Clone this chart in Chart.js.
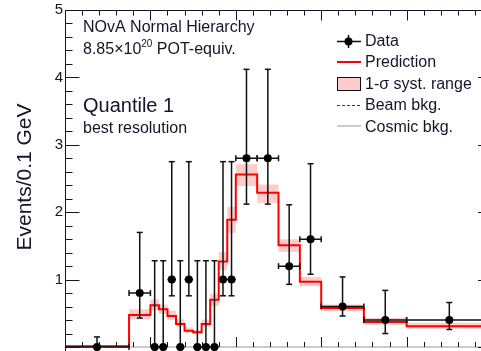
<!DOCTYPE html>
<html>
<head>
<meta charset="utf-8">
<script src="https://cdn.jsdelivr.net/npm/chart.js@4.4.1/dist/chart.umd.min.js"></script>
<style>
  html, body { margin: 0; padding: 0; background: #fff; }
  #wrap { width: 481px; height: 351px; }
</style>
</head>
<body>
<div id="wrap"><canvas id="chart" width="481" height="351"></canvas></div>
<script>
// bins in reconstructed energy (GeV), values in Events/0.1 GeV
const binEdges = [0, 0.75, 1.0, 1.1, 1.2, 1.3, 1.4, 1.5, 1.6, 1.7, 1.8, 1.9, 2.0, 2.25, 2.5, 2.75, 3.0, 3.5, 4.0, 5.0];
const prediction = [0.01, 0.475, 0.62, 0.56, 0.46, 0.34, 0.24, 0.22, 0.34, 0.70, 1.27, 1.89, 2.56, 2.29, 1.51, 0.97, 0.58, 0.37, 0.31];
const systLow  = [0.0, 0.41, 0.54, 0.49, 0.40, 0.30, 0.21, 0.19, 0.30, 0.61, 1.14, 1.69, 2.39, 2.14, 1.41, 0.90, 0.53, 0.33, 0.27];
const systHigh = [0.03, 0.56, 0.71, 0.63, 0.54, 0.41, 0.29, 0.25, 0.41, 0.79, 1.41, 2.08, 2.71, 2.41, 1.60, 1.04, 0.63, 0.43, 0.36];
const beamBkg   = [0, 0, 0, 0, 0, 0, 0, 0, 0, 0, 0, 0, 0, 0, 0, 0, 0, 0, 0];
const cosmicBkg = [0, 0, 0, 0, 0, 0, 0, 0, 0, 0, 0, 0, 0, 0, 0, 0, 0, 0, 0];
const dataValues  = [0, 0.8, 0, 0, 1, 0, 1, 0, 0, 0, 1, 1, 2.8, 2.8, 1.2, 1.6, 0.6, 0.4, 0.4];
const dataErrLow  = [0, 0.43, 0, 0, 0.76, 0, 0.76, 0, 0, 0, 0.76, 0.76, 2.12, 2.12, 0.93, 1.08, 0.46, 0.20, 0.26];
const dataErrHigh = [0.15, 1.70, 1.28, 1.28, 2.75, 1.28, 2.75, 1.28, 1.28, 1.28, 2.75, 2.75, 4.12, 4.12, 2.11, 2.72, 1.04, 0.84, 0.66];
const yTickValues = [1, 2, 3, 4, 5];

const FONT = "'Liberation Sans', Arial, Helvetica, sans-serif";
const INK = '#15152a';
const PINK = '#ffcccc';
const BLUE = '#2020ff';

function binCenter(i) { return (binEdges[i] + binEdges[i + 1]) / 2; }

// left edge of every bin plus a closing point, drawn as a stepped line
function stepPoints(values) {
  const pts = values.map((v, i) => ({ x: binEdges[i], y: v }));
  pts.push({ x: binEdges[values.length], y: values[values.length - 1] });
  return pts;
}

const markers = [], vErr = [], hErr = [];
dataValues.forEach((v, i) => {
  const c = binCenter(i);
  markers.push({ x: c, y: v });
  vErr.push({ x: c, y: dataErrLow[i] }, { x: c, y: dataErrHigh[i] }, { x: c, y: null });
  hErr.push({ x: binEdges[i], y: v }, { x: binEdges[i + 1], y: v }, { x: c, y: null });
});

const rootFrame = {
  id: 'rootFrame',
  afterDatasetsDraw(chart) {
    const { ctx, chartArea: a, scales: { x, y } } = chart;
    const L = Math.round(a.left) + 0.5, T = Math.round(a.top) + 0.5;
    const xRight = x.getPixelForValue(5);
    const yZero = y.getPixelForValue(0);
    ctx.save();
    ctx.strokeStyle = INK;
    ctx.lineWidth = 1;
    ctx.beginPath();
    ctx.moveTo(L, a.bottom); ctx.lineTo(L, T); ctx.lineTo(a.right, T);
    for (let k = 0; k <= 25; k++) {
      const px = Math.round(x.getPixelForValue(k * 0.2)) + 0.5;
      const len = k % 5 === 0 ? 10 : 5;
      ctx.moveTo(px, T); ctx.lineTo(px, T + len);
      ctx.moveTo(px, yZero); ctx.lineTo(px, yZero - len);
    }
    for (let k = 0; k <= 25; k++) {
      const py = Math.round(y.getPixelForValue(k * 0.2)) + 0.5;
      const len = k % 5 === 0 ? 14 : 7;
      ctx.moveTo(L, py); ctx.lineTo(L + len, py);
      ctx.moveTo(xRight, py); ctx.lineTo(xRight - len, py);
    }
    ctx.stroke();
    ctx.restore();
  },
  afterDraw(chart) {
    const ctx = chart.ctx;
    ctx.save();
    ctx.fillStyle = INK;
    ctx.textBaseline = 'alphabetic';

    // y title
    ctx.save();
    ctx.translate(31, 177);
    ctx.rotate(-Math.PI / 2);
    ctx.textAlign = 'center';
    ctx.font = '21px ' + FONT;
    ctx.fillText('Events/0.1 GeV', 0, 0);
    ctx.restore();

    ctx.textAlign = 'left';
    ctx.font = '16px ' + FONT;
    ctx.fillText('NOvA Normal Hierarchy', 83, 31.5);
    let tx = 83;
    ctx.fillText('8.85\u00d710', tx, 53.5);
    tx += ctx.measureText('8.85\u00d710').width;
    ctx.font = '10px ' + FONT;
    ctx.fillText('20', tx, 46.5);
    tx += ctx.measureText('20').width;
    ctx.font = '16px ' + FONT;
    ctx.fillText(' POT-equiv.', tx, 53.5);
    ctx.font = '20px ' + FONT;
    ctx.fillText('Quantile 1', 83, 111.5);
    ctx.font = '16px ' + FONT;
    ctx.fillText('best resolution', 83, 132.5);

    // legend
    const lx0 = 337, lx1 = 361, tX = 365;
    ctx.fillText('Data', tX, 45.5);
    ctx.fillText('Prediction', tX, 67);
    ctx.fillText('1-\u03c3 syst. range', tX, 88.5);
    ctx.fillText('Beam bkg.', tX, 110);
    ctx.fillText('Cosmic bkg.', tX, 131.5);

    ctx.strokeStyle = '#111';
    ctx.lineWidth = 1.5;
    ctx.beginPath();
    ctx.moveTo(lx0, 41.5); ctx.lineTo(lx1, 41.5);
    ctx.moveTo(348.5, 35); ctx.lineTo(348.5, 48);
    ctx.stroke();
    ctx.fillStyle = '#000';
    ctx.beginPath();
    ctx.arc(348.5, 41.5, 4, 0, Math.PI * 2);
    ctx.fill();

    ctx.strokeStyle = '#ff0000';
    ctx.lineWidth = 2;
    ctx.beginPath();
    ctx.moveTo(lx0, 62); ctx.lineTo(lx1, 62);
    ctx.stroke();

    ctx.fillStyle = PINK;
    ctx.fillRect(lx0 + 0.5, 77.5, 23, 13);
    ctx.strokeStyle = '#111';
    ctx.lineWidth = 1;
    ctx.strokeRect(lx0 + 0.5, 77.5, 23, 13);

    ctx.strokeStyle = BLUE;
    ctx.lineWidth = 1.2;
    ctx.setLineDash([3, 2]);
    ctx.beginPath();
    ctx.moveTo(lx0, 105.5); ctx.lineTo(lx1, 105.5);
    ctx.stroke();
    ctx.setLineDash([]);

    ctx.strokeStyle = '#cccccc';
    ctx.lineWidth = 2;
    ctx.beginPath();
    ctx.moveTo(lx0, 126); ctx.lineTo(lx1, 126);
    ctx.stroke();

    ctx.restore();
  }
};

const hCapRadius = (c) => {
  const i = Math.floor(c.dataIndex / 3);
  return binEdges[i + 1] - binEdges[i] >= 0.25 ? 3 : 0;
};

new Chart(document.getElementById('chart'), {
  type: 'line',
  data: {
    datasets: [
      { label: 'Data', data: markers, showLine: false, pointRadius: 4, pointHoverRadius: 4,
        pointBackgroundColor: '#000', pointBorderWidth: 0 },
      { label: 'Data err y', data: vErr, borderColor: '#111', borderWidth: 1.5, spanGaps: false,
        pointStyle: 'line', pointRadius: 3, pointBorderColor: '#111', pointBorderWidth: 1.5 },
      { label: 'Data err x', data: hErr, borderColor: '#111', borderWidth: 1.5, spanGaps: false,
        pointStyle: 'line', pointRotation: 90, pointRadius: hCapRadius, pointBorderColor: '#111', pointBorderWidth: 1.5 },
      { label: 'Prediction', data: stepPoints(prediction), stepped: true, borderColor: '#ff0000',
        borderWidth: 2, pointRadius: 0, fill: false },
      { label: 'Cosmic bkg.', data: stepPoints(cosmicBkg), stepped: true, borderColor: '#cccccc',
        borderWidth: 2, pointRadius: 0, fill: false },
      { label: 'Beam bkg.', data: stepPoints(beamBkg), stepped: true, borderColor: BLUE,
        borderDash: [3, 2], borderWidth: 1, pointRadius: 0, fill: false },
      { label: 'syst hi', data: stepPoints(systHigh), stepped: true, borderColor: 'rgba(0,0,0,0)',
        borderWidth: 1, pointRadius: 0, fill: '+1', backgroundColor: PINK },
      { label: 'syst lo', data: stepPoints(systLow), stepped: true, borderColor: 'rgba(0,0,0,0)',
        borderWidth: 1, pointRadius: 0, fill: false }
    ]
  },
  options: {
    responsive: false,
    animation: false,
    devicePixelRatio: 1,
    layout: { autoPadding: false, padding: { top: 10, right: 0, bottom: 0, left: 0 } },
    plugins: { legend: { display: false }, tooltip: { enabled: false } },
    scales: {
      x: { type: 'linear', min: 0, max: 4.871, display: false },
      y: {
        type: 'linear', min: -0.059, max: 5,
        afterBuildTicks: (s) => { s.ticks = yTickValues.map(v => ({ value: v })); },
        afterFit: (s) => { s.width = 65; s.paddingTop = 0; s.paddingBottom = 0; },
        grid: { display: false, drawTicks: false },
        border: { display: false },
        ticks: { autoSkip: false, padding: 2, color: INK, font: { family: FONT, size: 15 } }
      }
    }
  },
  plugins: [rootFrame]
});
</script>
</body>
</html>
